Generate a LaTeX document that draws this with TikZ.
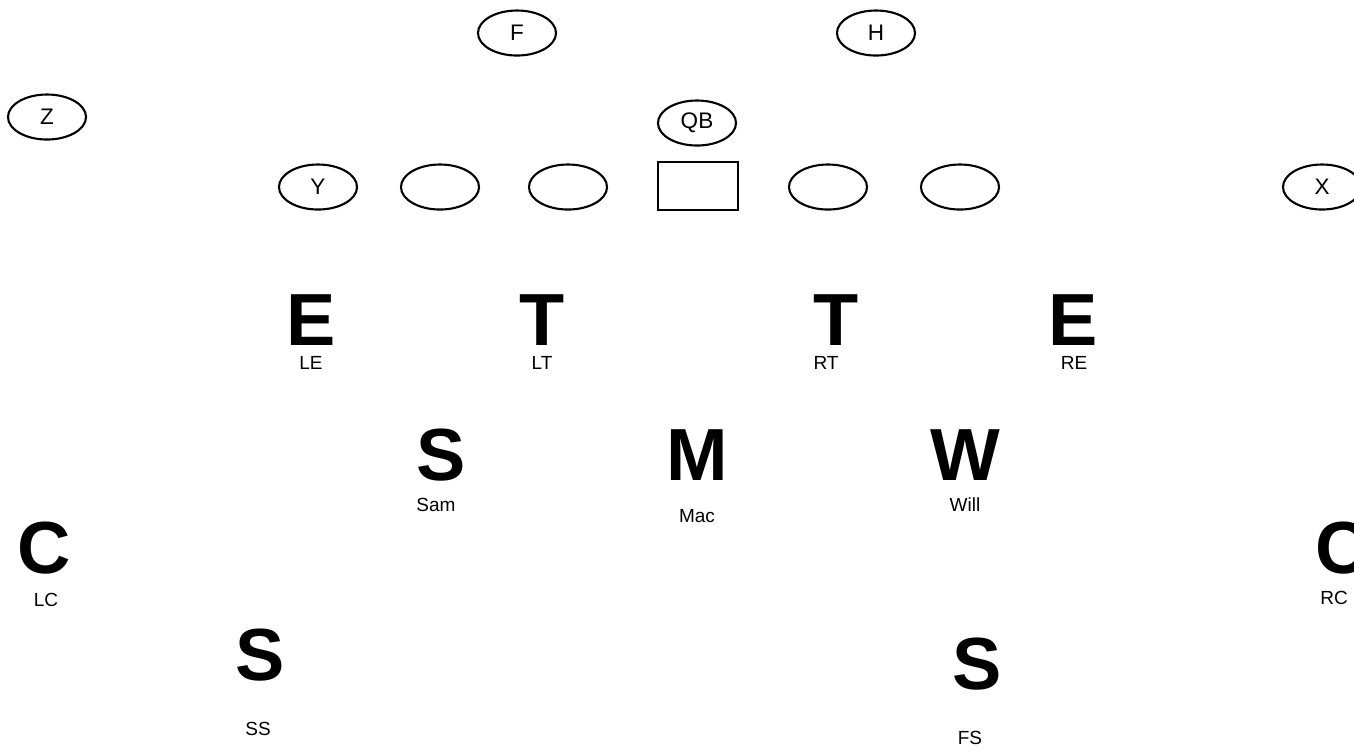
\documentclass[tikz,border=0pt]{standalone}
\usepackage{fontspec}
\setmainfont{Liberation Sans}
\newfontfamily\labfont{Liberation Sans}
\usetikzlibrary{shapes.geometric}
\tikzset{
  player/.style={ellipse,draw,line width=0.6pt,minimum width=0.78cm,minimum height=0.45cm,inner sep=0pt,font=\labfont\fontsize{6.4}{7}\selectfont},
  ctrbox/.style={rectangle,draw,line width=0.6pt,minimum width=0.8cm,minimum height=0.48cm,inner sep=0pt},
  defl/.style={font=\bfseries\fontsize{21}{23}\selectfont,inner sep=0pt,anchor=base},
  poslab/.style={font=\labfont\fontsize{5.4}{6.5}\selectfont,inner sep=0pt,anchor=base}
}
\begin{document}
\begin{tikzpicture}[x=0.01cm,y=-0.01cm]
\useasboundingbox (0,0) rectangle (1354,753);
% offense
\node[player] (F) at (517,33) {F};
\node[player] (H) at (876,33) {H};
\node[player] (Z) at (47,117) {Z};
\node[player] (QB) at (697,123) {QB};
\node[player] (Y) at (318,187) {Y};
\node[player] (LG) at (440,187) {};
\node[player] (LGT) at (568,187) {};
\node[ctrbox] (Ctr) at (698,186) {};
\node[player] (RG) at (828,187) {};
\node[player] (RTk) at (960,187) {};
\node[player] (X) at (1322,187) {X};
% defensive line
\node[defl] (LE) at (311,345) {E};
\node[poslab] (LEl) at (311,369) {LE};
\node[defl] (LT) at (542,345) {T};
\node[poslab] (LTl) at (542,369) {LT};
\node[defl] (RT) at (836,345) {T};
\node[poslab] (RTl) at (826,369) {RT};
\node[defl] (RE) at (1073,345) {E};
\node[poslab] (REl) at (1074,369) {RE};
% linebackers
\node[defl] (Sam) at (441,480) {S};
\node[poslab] (Saml) at (436,511) {Sam};
\node[defl] (Mac) at (697,480) {M};
\node[poslab] (Macl) at (697,522) {Mac};
\node[defl] (Will) at (965,480) {W};
\node[poslab] (Willl) at (965,511) {Will};
% secondary
\node[defl] (LC) at (44,573) {C};
\node[poslab] (LCl) at (46,606) {LC};
\node[defl] (RC) at (1342,573) {C};
\node[poslab] (RCl) at (1334,604) {RC};
\node[defl] (SS) at (260,680) {S};
\node[poslab] (SSl) at (258,735) {SS};
\node[defl] (FS) at (977,689) {S};
\node[poslab] (FSl) at (970,744) {FS};
\end{tikzpicture}
\end{document}
